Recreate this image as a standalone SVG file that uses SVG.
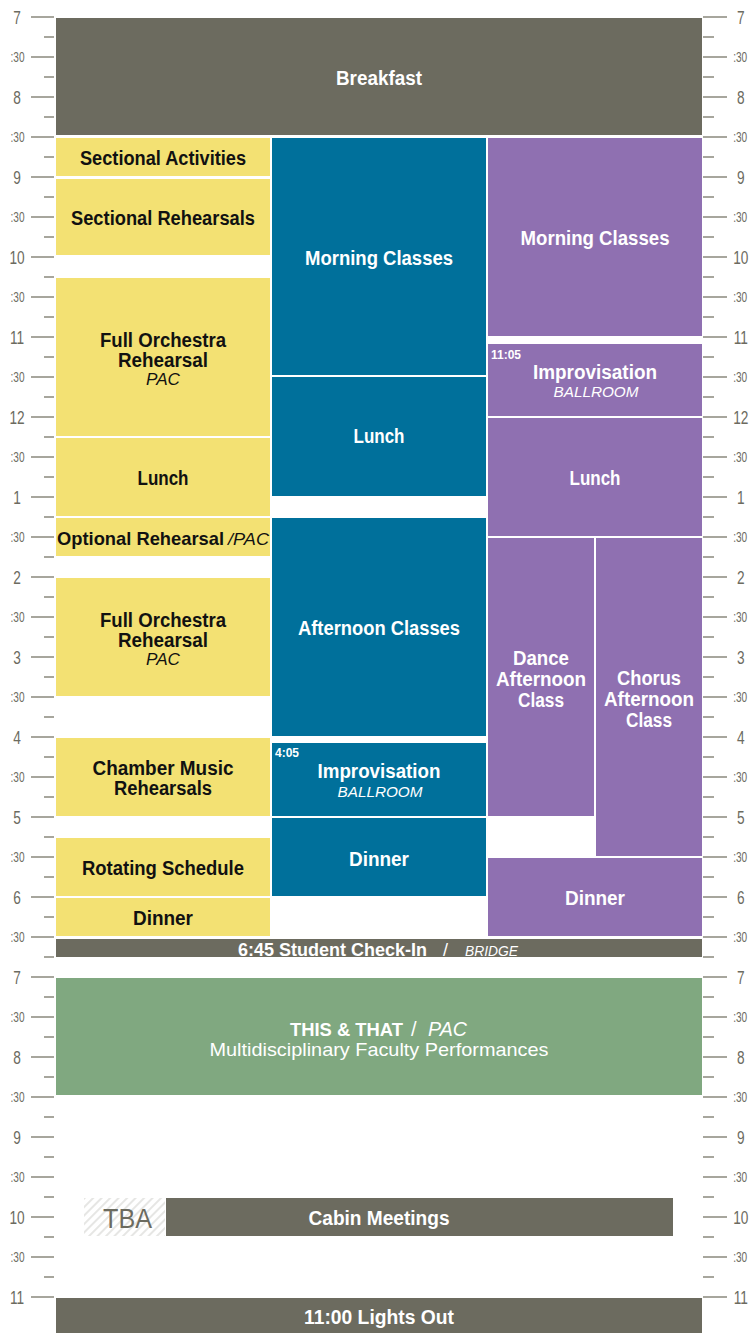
<svg xmlns="http://www.w3.org/2000/svg" width="753" height="1333" viewBox="0 0 753 1333">
<style>
.yl{fill:#f3e173}.tl{fill:#00709b}.pu{fill:#8f70b1}.gy{fill:#6c6b5f}.gr{fill:#80a880}
text{font-family:"Liberation Sans",Arial,sans-serif}
.lb{font-weight:bold;font-size:20px;text-anchor:middle}
.w{fill:#fff}.k{fill:#111}
.it{font-style:italic;font-weight:normal}
.lt{font-weight:normal}
.sm{font-weight:bold;font-size:12px;fill:#fff}
.ax{fill:#6c6b5f;text-anchor:middle}
.hr{font-size:19px}.hf{font-size:14px}
.tk{stroke:#8a897e;stroke-width:1.5;fill:none}
</style>
<defs>
<pattern id="hatch" patternUnits="userSpaceOnUse" width="6" height="6" patternTransform="rotate(45)">
<line x1="1" y1="0" x2="1" y2="6" stroke="#d9d9d6" stroke-width="1.3"/>
</pattern>
</defs>
<rect width="753" height="1333" fill="#fff"/>
<g id="axis">
<path class="tk" d="M31 17h23M31 57h23M31 97h23M31 137h23M31 177h23M31 217h23M31 257h23M31 297h23M31 337h23M31 377h23M31 417h23M31 457h23M31 497h23M31 537h23M31 577h23M31 617h23M31 657h23M31 697h23M31 737h23M31 777h23M31 817h23M31 857h23M31 897h23M31 937h23M31 977h23M31 1017h23M31 1057h23M31 1097h23M31 1137h23M31 1177h23M31 1217h23M31 1257h23M31 1297h23"/>
<path class="tk" d="M44 37h10M44 77h10M44 117h10M44 157h10M44 197h10M44 237h10M44 277h10M44 317h10M44 357h10M44 397h10M44 437h10M44 477h10M44 517h10M44 557h10M44 597h10M44 637h10M44 677h10M44 717h10M44 757h10M44 797h10M44 837h10M44 877h10M44 917h10M44 957h10M44 997h10M44 1037h10M44 1077h10M44 1117h10M44 1157h10M44 1197h10M44 1237h10M44 1277h10"/>
<path class="tk" d="M703 17h24M703 57h24M703 97h24M703 137h24M703 177h24M703 217h24M703 257h24M703 297h24M703 337h24M703 377h24M703 417h24M703 457h24M703 497h24M703 537h24M703 577h24M703 617h24M703 657h24M703 697h24M703 737h24M703 777h24M703 817h24M703 857h24M703 897h24M703 937h24M703 977h24M703 1017h24M703 1057h24M703 1097h24M703 1137h24M703 1177h24M703 1217h24M703 1257h24M703 1297h24"/>
<path class="tk" d="M703 37h11M703 77h11M703 117h11M703 157h11M703 197h11M703 237h11M703 277h11M703 317h11M703 357h11M703 397h11M703 437h11M703 477h11M703 517h11M703 557h11M703 597h11M703 637h11M703 677h11M703 717h11M703 757h11M703 797h11M703 837h11M703 877h11M703 917h11M703 957h11M703 997h11M703 1037h11M703 1077h11M703 1117h11M703 1157h11M703 1197h11M703 1237h11M703 1277h11"/>
<g transform="scale(0.72,1)" class="ax">
<g class="hr">
<text x="23.6" y="24">7</text><text x="23.6" y="104">8</text><text x="23.6" y="184">9</text><text x="23.6" y="264">10</text><text x="23.6" y="344">11</text><text x="23.6" y="424">12</text><text x="23.6" y="504">1</text><text x="23.6" y="584">2</text><text x="23.6" y="664">3</text><text x="23.6" y="744">4</text><text x="23.6" y="824">5</text><text x="23.6" y="904">6</text><text x="23.6" y="984">7</text><text x="23.6" y="1064">8</text><text x="23.6" y="1144">9</text><text x="23.6" y="1224">10</text><text x="23.6" y="1304">11</text>
<text x="1029" y="24">7</text><text x="1029" y="104">8</text><text x="1029" y="184">9</text><text x="1029" y="264">10</text><text x="1029" y="344">11</text><text x="1029" y="424">12</text><text x="1029" y="504">1</text><text x="1029" y="584">2</text><text x="1029" y="664">3</text><text x="1029" y="744">4</text><text x="1029" y="824">5</text><text x="1029" y="904">6</text><text x="1029" y="984">7</text><text x="1029" y="1064">8</text><text x="1029" y="1144">9</text><text x="1029" y="1224">10</text><text x="1029" y="1304">11</text>
</g>
<g class="hf">
<text x="24.3" y="62">:30</text><text x="24.3" y="142">:30</text><text x="24.3" y="222">:30</text><text x="24.3" y="302">:30</text><text x="24.3" y="382">:30</text><text x="24.3" y="462">:30</text><text x="24.3" y="542">:30</text><text x="24.3" y="622">:30</text><text x="24.3" y="702">:30</text><text x="24.3" y="782">:30</text><text x="24.3" y="862">:30</text><text x="24.3" y="942">:30</text><text x="24.3" y="1022">:30</text><text x="24.3" y="1102">:30</text><text x="24.3" y="1182">:30</text><text x="24.3" y="1262">:30</text>
<text x="1028" y="62">:30</text><text x="1028" y="142">:30</text><text x="1028" y="222">:30</text><text x="1028" y="302">:30</text><text x="1028" y="382">:30</text><text x="1028" y="462">:30</text><text x="1028" y="542">:30</text><text x="1028" y="622">:30</text><text x="1028" y="702">:30</text><text x="1028" y="782">:30</text><text x="1028" y="862">:30</text><text x="1028" y="942">:30</text><text x="1028" y="1022">:30</text><text x="1028" y="1102">:30</text><text x="1028" y="1182">:30</text><text x="1028" y="1262">:30</text>
</g>
</g>
</g>
<g id="breakfast"><rect class="gy" x="56" y="18" width="646" height="117"/><text class="lb w" x="379" y="85" textLength="86" lengthAdjust="spacingAndGlyphs">Breakfast</text></g>
<g id="sectional-activities"><rect class="yl" x="56" y="138" width="214" height="38"/><text class="lb k" x="163" y="165" textLength="166" lengthAdjust="spacingAndGlyphs">Sectional Activities</text></g>
<g id="sectional-rehearsals"><rect class="yl" x="56" y="179" width="214" height="76"/><text class="lb k" x="163" y="225" textLength="184" lengthAdjust="spacingAndGlyphs">Sectional Rehearsals</text></g>
<g id="full-orchestra-1"><rect class="yl" x="56" y="278" width="214" height="158"/><text class="lb k" x="163" y="347" textLength="126" lengthAdjust="spacingAndGlyphs">Full Orchestra</text><text class="lb k" x="163" y="367" textLength="90" lengthAdjust="spacingAndGlyphs">Rehearsal</text><text class="lb k it" x="163" y="385" style="font-size:16px" textLength="34" lengthAdjust="spacingAndGlyphs">PAC</text></g>
<g id="lunch-left"><rect class="yl" x="56" y="438" width="214" height="78"/><text class="lb k" x="163" y="485" textLength="51" lengthAdjust="spacingAndGlyphs">Lunch</text></g>
<g id="optional-rehearsal"><rect class="yl" x="56" y="518" width="214" height="38"/><text class="k" y="545" style="font-weight:bold;font-size:18.5px"><tspan x="57" textLength="167" lengthAdjust="spacingAndGlyphs">Optional Rehearsal</tspan><tspan x="228" class="it" style="font-size:17px" textLength="41" lengthAdjust="spacingAndGlyphs">/PAC</tspan></text></g>
<g id="full-orchestra-2"><rect class="yl" x="56" y="578" width="214" height="118"/><text class="lb k" x="163" y="627" textLength="126" lengthAdjust="spacingAndGlyphs">Full Orchestra</text><text class="lb k" x="163" y="647" textLength="90" lengthAdjust="spacingAndGlyphs">Rehearsal</text><text class="lb k it" x="163" y="665" style="font-size:16px" textLength="34" lengthAdjust="spacingAndGlyphs">PAC</text></g>
<g id="chamber-music"><rect class="yl" x="56" y="738" width="214" height="78"/><text class="lb k" x="163" y="775" textLength="141" lengthAdjust="spacingAndGlyphs">Chamber Music</text><text class="lb k" x="163" y="795" textLength="98" lengthAdjust="spacingAndGlyphs">Rehearsals</text></g>
<g id="rotating-schedule"><rect class="yl" x="56" y="838" width="214" height="58"/><text class="lb k" x="163" y="875" textLength="162" lengthAdjust="spacingAndGlyphs">Rotating Schedule</text></g>
<g id="dinner-left"><rect class="yl" x="56" y="898" width="214" height="38"/><text class="lb k" x="163" y="925" textLength="60" lengthAdjust="spacingAndGlyphs">Dinner</text></g>
<g id="morning-classes-mid"><rect class="tl" x="272" y="138" width="214" height="237"/><text class="lb w" x="379" y="265" textLength="148" lengthAdjust="spacingAndGlyphs">Morning Classes</text></g>
<g id="lunch-mid"><rect class="tl" x="272" y="377" width="214" height="119"/><text class="lb w" x="379" y="443" textLength="51" lengthAdjust="spacingAndGlyphs">Lunch</text></g>
<g id="afternoon-classes"><rect class="tl" x="272" y="518" width="214" height="218"/><text class="lb w" x="379" y="635" textLength="162" lengthAdjust="spacingAndGlyphs">Afternoon Classes</text></g>
<g id="improvisation-mid"><rect class="tl" x="272" y="743" width="214" height="73"/><text class="sm" x="275" y="757">4:05</text><text class="lb w" x="379" y="778" textLength="123" lengthAdjust="spacingAndGlyphs">Improvisation</text><text class="lb w it" x="380" y="797" style="font-size:14px" textLength="85" lengthAdjust="spacingAndGlyphs">BALLROOM</text></g>
<g id="dinner-mid"><rect class="tl" x="272" y="818" width="214" height="78"/><text class="lb w" x="379" y="866" textLength="60" lengthAdjust="spacingAndGlyphs">Dinner</text></g>
<g id="morning-classes-right"><rect class="pu" x="488" y="138" width="214" height="198"/><text class="lb w" x="595" y="245" textLength="149" lengthAdjust="spacingAndGlyphs">Morning Classes</text></g>
<g id="improvisation-right"><rect class="pu" x="488" y="344" width="214" height="72"/><text class="sm" x="491" y="359">11:05</text><text class="lb w" x="595" y="379" textLength="124" lengthAdjust="spacingAndGlyphs">Improvisation</text><text class="lb w it" x="596" y="397" style="font-size:14px" textLength="85" lengthAdjust="spacingAndGlyphs">BALLROOM</text></g>
<g id="lunch-right"><rect class="pu" x="488" y="418" width="214" height="118"/><text class="lb w" x="595" y="485" textLength="51" lengthAdjust="spacingAndGlyphs">Lunch</text></g>
<g id="dance-afternoon"><rect class="pu" x="488" y="538" width="106" height="278"/><text class="lb w" x="541" y="665" textLength="56" lengthAdjust="spacingAndGlyphs">Dance</text><text class="lb w" x="541" y="686" textLength="90" lengthAdjust="spacingAndGlyphs">Afternoon</text><text class="lb w" x="541" y="707" textLength="46" lengthAdjust="spacingAndGlyphs">Class</text></g>
<g id="chorus-afternoon"><rect class="pu" x="596" y="538" width="106" height="318"/><text class="lb w" x="649" y="685" textLength="64" lengthAdjust="spacingAndGlyphs">Chorus</text><text class="lb w" x="649" y="706" textLength="90" lengthAdjust="spacingAndGlyphs">Afternoon</text><text class="lb w" x="649" y="727" textLength="46" lengthAdjust="spacingAndGlyphs">Class</text></g>
<g id="dinner-right"><rect class="pu" x="488" y="858" width="214" height="78"/><text class="lb w" x="595" y="905" textLength="60" lengthAdjust="spacingAndGlyphs">Dinner</text></g>
<g id="student-check-in"><rect class="gy" x="56" y="939" width="646" height="18"/><text class="w" y="956" style="font-weight:bold;font-size:18px"><tspan x="238" textLength="189" lengthAdjust="spacingAndGlyphs">6:45 Student Check-In</tspan><tspan x="443" class="lt">/</tspan><tspan x="465" class="it" style="font-size:14px" textLength="53" lengthAdjust="spacingAndGlyphs">BRIDGE</tspan></text></g>
<g id="this-and-that"><rect class="gr" x="56" y="978" width="646" height="117"/><text class="w" y="1036" style="font-weight:bold;font-size:18.5px"><tspan x="290" textLength="113" lengthAdjust="spacingAndGlyphs">THIS &amp; THAT</tspan><tspan x="411" class="lt" style="font-size:20px">/</tspan><tspan x="428" class="it" style="font-size:20px" textLength="39" lengthAdjust="spacingAndGlyphs">PAC</tspan></text><text class="w lt" x="379" y="1056" style="font-size:19px;text-anchor:middle" textLength="339" lengthAdjust="spacingAndGlyphs">Multidisciplinary Faculty Performances</text></g>
<g id="tba"><rect x="84" y="1198" width="81" height="38" fill="url(#hatch)"/><text x="103" y="1228" style="font-size:27px;fill:#6c6b5f" textLength="49" lengthAdjust="spacingAndGlyphs">TBA</text></g>
<g id="cabin-meetings"><rect class="gy" x="166" y="1198" width="507" height="38"/><text class="lb w" x="379" y="1225" textLength="141" lengthAdjust="spacingAndGlyphs">Cabin Meetings</text></g>
<g id="lights-out"><rect class="gy" x="56" y="1298" width="646" height="35"/><text class="lb w" x="379" y="1324" textLength="150" lengthAdjust="spacingAndGlyphs">11:00 Lights Out</text></g>
<g id="connectors"></g>
</svg>
